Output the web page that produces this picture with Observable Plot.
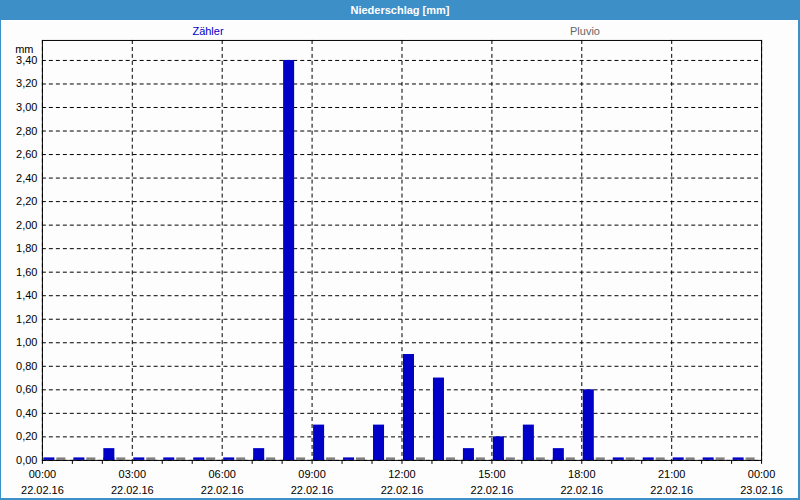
<!DOCTYPE html>
<html><head><meta charset="utf-8">
<script src="https://cdn.jsdelivr.net/npm/d3@7"></script>
<script src="https://cdn.jsdelivr.net/npm/@observablehq/plot@0.6"></script>
<style>
html,body{margin:0;padding:0;background:#fff;}
#wrap{position:relative;width:800px;height:500px;box-sizing:border-box;border-left:1px solid #3d8fc8;border-right:2px solid #3d8fc8;border-bottom:2px solid #3d8fc8;background:#fcfdfc;font-family:"Liberation Sans",Arial,sans-serif;overflow:hidden;}
#title{position:absolute;left:-1px;top:0;width:800px;height:20px;background:#3d8fc8;color:#fff;font-weight:bold;font-size:11px;line-height:20px;text-align:center;}
.leg{position:absolute;top:25px;font-size:11px;transform:translateX(-50%);}
#chart{position:absolute;left:-1px;top:20px;}
</style></head>
<body>
<div id="wrap">
<div id="title">Niederschlag [mm]</div>
<div class="leg" style="left:207px;color:#0000c8">Zähler</div>
<div class="leg" style="left:584px;color:#666">Pluvio</div>
<div id="chart"></div>
</div>
<script>
const hours = [0,1,2,3,4,5,6,7,8,9,10,11,12,13,14,15,16,17,18,19,20,21,22,23];
const zaehler = [0,0,0.1,0,0,0,0,0.1,3.4,0.3,0,0.3,0.9,0.7,0.1,0.2,0.3,0.1,0.6,0,0,0,0,0];
const pluvio  = [0,0,0,0,0,0,0,0,0,0,0,0,0,0,0,0,0,0,0,0,0,0,0,0];
const xTicks = [0,3,6,9,12,15,18,21,24];
const xTimeLabels = ["00:00","03:00","06:00","09:00","12:00","15:00","18:00","21:00","00:00"];
const xDateLabels = ["22.02.16","22.02.16","22.02.16","22.02.16","22.02.16","22.02.16","22.02.16","22.02.16","23.02.16"];
const yTicks = [0,0.2,0.4,0.6,0.8,1.0,1.2,1.4,1.6,1.8,2.0,2.2,2.4,2.6,2.8,3.0,3.2,3.4];

const dataZ = hours.map((h,i)=>({h, v: zaehler[i]}));
const dataP = hours.map((h,i)=>({h, v: pluvio[i]}));
const fmtY = d => d3.format(".2f")(d).replace(".", ",");

const chart = Plot.plot({
  width: 800, height: 480,
  marginLeft: 42, marginRight: 37, marginTop: 20, marginBottom: 39,
  style: {fontFamily: '"Liberation Sans", Arial, sans-serif', fontSize: "11px", background: "transparent", color: "#000"},
  x: {domain: [0, 24]},
  y: {domain: [0, 3.57]},
  marks: [
    Plot.gridY(yTicks, {stroke: "#000", strokeOpacity: 1, strokeDasharray: "4,3"}),
    Plot.gridX(xTicks, {stroke: "#000", strokeOpacity: 1, strokeDasharray: "4,3"}),
    // stubs showing zero values
    Plot.rect(dataZ, {x1: "h", x2: d => d.h + 1, y1: 0, y2: 0, insetLeft: 1.5, insetRight: 17.5, insetTop: -2.5, fill: "#0000c8"}),
    Plot.rect(dataP, {x1: "h", x2: d => d.h + 1, y1: 0, y2: 0, insetLeft: 14.5, insetRight: 6.5, insetTop: -2.5, fill: "#808080"}),
    Plot.rect(dataZ, {x1: "h", x2: d => d.h + 1, y1: 0, y2: "v", insetLeft: 1.5, insetRight: 17.5, fill: "#0000c8"}),
    Plot.rect(dataP, {x1: "h", x2: d => d.h + 1, y1: 0, y2: "v", insetLeft: 14.5, insetRight: 6.5, fill: "#808080"}),
    Plot.axisX([...hours, 24], {tickSize: 4, tickFormat: () => "", label: null, stroke: "#000"}),
    Plot.axisX(xTicks, {tickSize: 0, tickPadding: 10, tickFormat: d => xTimeLabels[xTicks.indexOf(d)], label: null, fontSize: 11}),
    Plot.axisX(xTicks, {tickSize: 0, tickPadding: 25.5, tickFormat: d => xDateLabels[xTicks.indexOf(d)], label: null, fontSize: 11}),
    Plot.axisY(yTicks, {tickSize: 0, tickPadding: 5, tickFormat: fmtY, label: null, fontSize: 11}),
    Plot.text(["mm"], {frameAnchor: "top-left", dx: -9, dy: 5, textAnchor: "end", fontSize: 11}),
    Plot.frame({stroke: "#000", strokeWidth: 1})
  ]
});
document.getElementById("chart").appendChild(chart);
</script>
</body></html>
